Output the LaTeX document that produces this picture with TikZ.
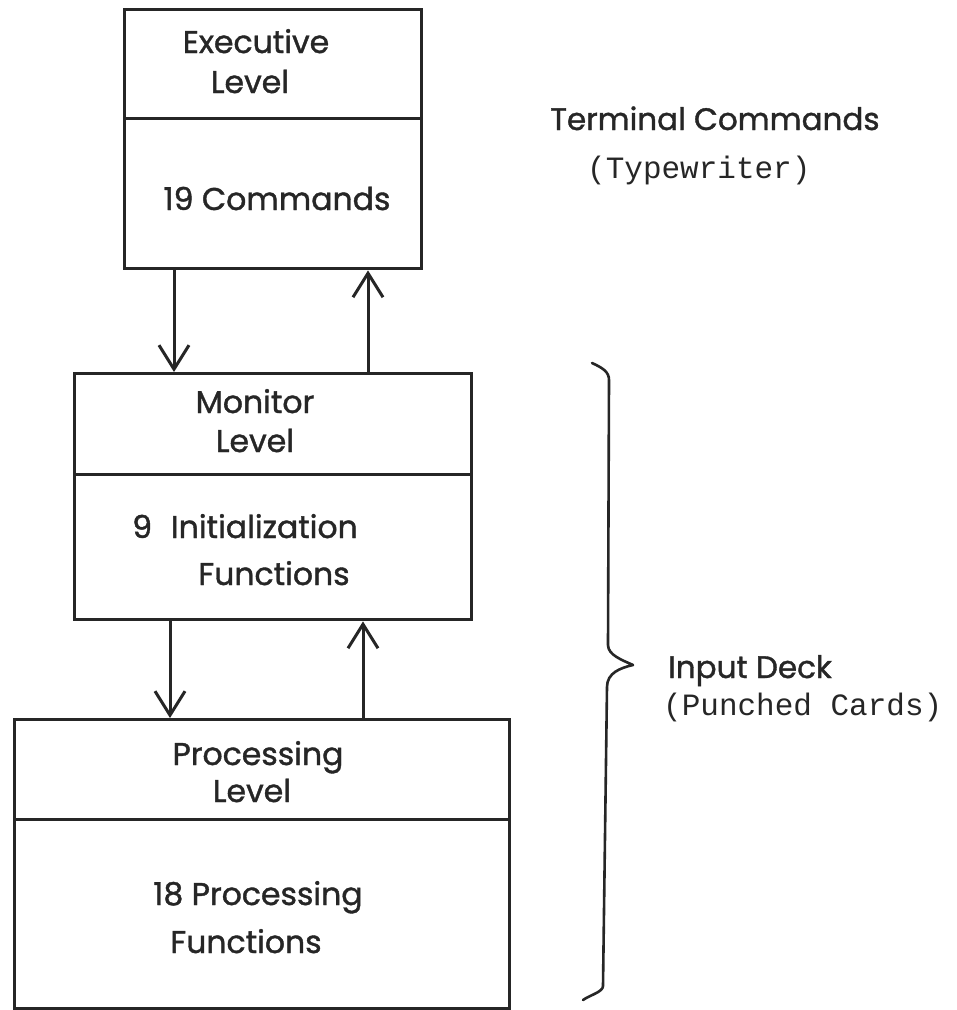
\documentclass[tikz,border=0pt]{standalone}
\usepackage{fontspec}
\setmainfont{Poppins}
\newfontfamily\boxfont{Poppins}[FakeBold=1.2]
\newfontfamily\typefont{Liberation Mono}
\usetikzlibrary{arrows.meta}
\begin{document}
\begin{tikzpicture}[x=1pt,y=-1pt,
  box/.style={draw=black!85, line width=3.4pt, rectangle, inner sep=0pt, anchor=north west},
  lbl/.style={font=\boxfont\fontsize{31.5}{31.5}\selectfont, text=black!85, inner sep=0pt, anchor=base},
  side/.style={font=\boxfont\fontsize{31}{31}\selectfont, text=black!85, inner sep=0pt, anchor=base west},
  mono/.style={font=\typefont\fontsize{31}{31}\selectfont, text=black!85, inner sep=0pt, anchor=base west},
  arr/.style={draw=black!85, line width=3pt, -{Straight Barb[length=24pt,width=30pt,line width=3pt]}},
  bracestyle/.style={draw=black!85, line width=2.6pt, line cap=round, line join=round}]
\fill[white] (0,0) rectangle (957,1010);
\useasboundingbox (0,0) rectangle (957,1010);
% Executive
\node[box, minimum width=297pt, minimum height=109pt] (exTop) at (123,8) {};
\node[box, minimum width=297pt, minimum height=150pt] (exBot) at (123,117) {};
\node[lbl] (ex1) at (256,53) {Executive};
\node[lbl] (ex2) at (250,93) {Level};
\node[lbl] (ex3) at (277,210) {19 Commands};
% Monitor
\node[box, minimum width=397pt, minimum height=101pt] (moTop) at (73,372) {};
\node[box, minimum width=397pt, minimum height=145pt] (moBot) at (73,473) {};
\node[lbl] (mo1) at (255,413) {Monitor};
\node[lbl] (mo2) at (255,452) {Level};
\node[lbl] (mo3) at (245,538) {9\hspace{0.6em}Initialization};
\node[lbl] (mo4) at (274,585) {Functions};
% Processing
\node[box, minimum width=495pt, minimum height=100pt] (prTop) at (13,718) {};
\node[box, minimum width=495pt, minimum height=189pt] (prBot) at (13,818) {};
\node[lbl] (pr1) at (258,765) {Processing};
\node[lbl] (pr2) at (252,802) {Level};
\node[lbl] (pr3) at (258,905) {18 Processing};
\node[lbl] (pr4) at (246,953) {Functions};
% arrows
\coordinate (c1) at (174,0);
\coordinate (c2) at (368,0);
\coordinate (c3) at (170,0);
\coordinate (c4) at (363,0);
\draw[arr] (exBot.south -| c1) -- (moTop.north -| c1);
\draw[arr] (moTop.north -| c2) -- (exBot.south -| c2);
\draw[arr] (moBot.south -| c3) -- (prTop.north -| c3);
\draw[arr] (prTop.north -| c4) -- (moBot.south -| c4);
% side labels
\node[side] (t1) at (550,130) {Terminal Commands};
\node[mono] (t2) at (587,178) {(Typewriter)};
\node[side] (i1) at (668,678) {Input Deck};
\node[mono] (i2) at (663,715) {(Punched Cards)};
% brace
\draw[bracestyle] (592,363) .. controls (603,368) and (609,372) .. (609,380)
  -- (608,645) .. controls (608,655) and (622,660) .. (633,665)
  .. controls (620,668) and (607,673) .. (607,687)
  -- (603,986) .. controls (603,992) and (590,995) .. (583,1000);
\end{tikzpicture}
\end{document}
